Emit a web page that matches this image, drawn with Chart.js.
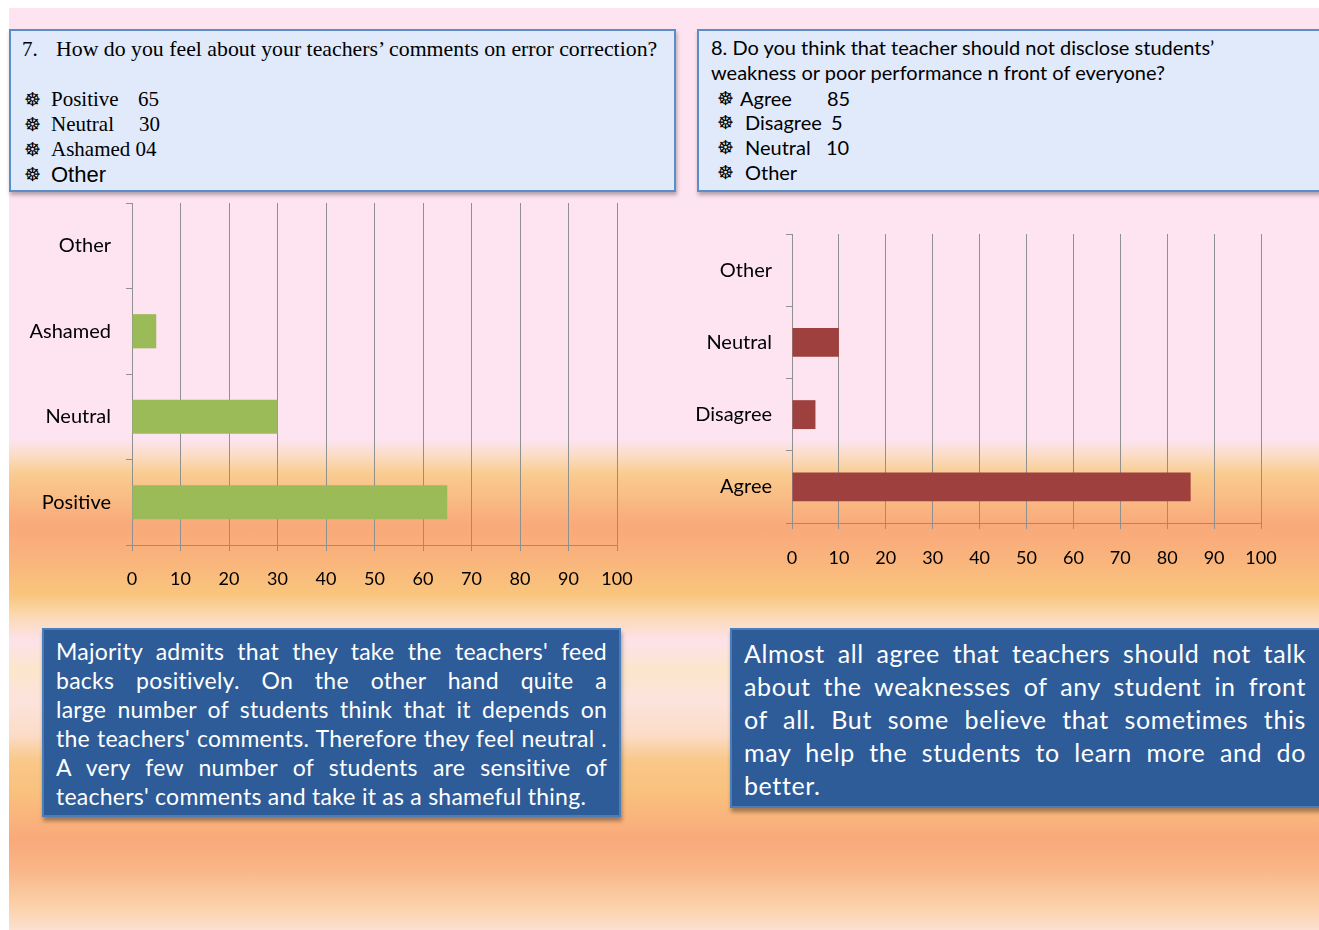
<!DOCTYPE html>
<html>
<head>
<meta charset="utf-8">
<script src="https://cdn.jsdelivr.net/npm/chart.js@4"></script>
<style>
  html, body { margin: 0; padding: 0; overflow: hidden; background: #fff; }
  #page { position: relative; width: 1319px; height: 930px; overflow: hidden; }
  #slide {
    position: absolute; left: 9px; top: 8px; width: 1310px; height: 922px;
    background: linear-gradient(to bottom,
      #fde4f0 0px, #fde4f0 432px, #fbdcc6 447px, #f9cb8e 467px, #f9a97a 517px,
      #f9b47c 552px, #f9c67c 587px, #fbd9b0 607px, #fde2ea 632px, #fbe6cc 662px,
      #fce3dc 692px, #fbdcc8 727px, #f9c88a 752px, #f9c27e 782px, #f9a97a 832px,
      #f9b688 862px, #fbd0a8 897px, #fde0d0 922px);
  }
  .qbox {
    position: absolute; box-sizing: border-box; height: 163px; top: 29px;
    background: #e0eafb; border: 2px solid #5d8cc6;
    box-shadow: 1px 3px 4px rgba(0,0,0,0.3);
  }
  .qbox div { position: absolute; white-space: pre; line-height: 25px; height: 25px; color: #000; }
  .serif { font-family: "Liberation Serif", serif; font-size: 21px; }
  .sans { font-family: "Liberation Sans", sans-serif; font-size: 22px; }
  .lato { font-family: Lato, sans-serif; font-size: 20px; }
  .bul { font-family: "DejaVu Sans", sans-serif; font-size: 19px; }
  .note {
    position: absolute; box-sizing: border-box; top: 628px;
    background: #2e5c98; border: 2px solid #4a7ebb;
    box-shadow: 1px 4px 4px rgba(0,0,0,0.35);
    color: #fff; font-family: Lato, sans-serif;
  }
  .note .txt { position: absolute; }
  .note .ln { text-align: justify; text-align-last: justify; }
  .note .ln.last { text-align: left; text-align-last: left; }
  canvas { position: absolute; }
</style>
</head>
<body>
<div id="page">
  <div id="slide"></div>

  <div class="qbox" style="left:9px; width:667px;">
    <div class="serif" style="left:11px; top:6px;">7.</div>
    <div class="serif" style="left:45px; top:6px; font-size:21.8px;">How do you feel about your teachers’ comments on error correction?</div>
    <div class="bul" style="left:13px; top:56px;">☸</div>
    <div class="serif" style="left:40px; top:56px;">Positive</div>
    <div class="serif" style="left:127px; top:56px;">65</div>
    <div class="bul" style="left:13px; top:81px;">☸</div>
    <div class="serif" style="left:40px; top:81px;">Neutral</div>
    <div class="serif" style="left:128px; top:81px;">30</div>
    <div class="bul" style="left:13px; top:106px;">☸</div>
    <div class="serif" style="left:40px; top:106px;">Ashamed 04</div>
    <div class="bul" style="left:13px; top:131px;">☸</div>
    <div class="sans" style="left:40px; top:131px;">Other</div>
  </div>

  <div class="qbox" style="left:697px; width:640px;">
    <div class="lato" style="left:12px; top:4px;">8. Do you think that teacher should not disclose students’</div>
    <div class="lato" style="left:12px; top:29px;">weakness or poor performance n front of everyone?</div>
    <div class="bul" style="left:18px; top:55px;">☸</div>
    <div class="lato" style="left:41px; top:55px;">Agree</div>
    <div class="lato" style="left:128px; top:55px;">85</div>
    <div class="bul" style="left:18px; top:79px;">☸</div>
    <div class="lato" style="left:46px; top:79px;">Disagree</div>
    <div class="lato" style="left:132px; top:79px;">5</div>
    <div class="bul" style="left:18px; top:104px;">☸</div>
    <div class="lato" style="left:46px; top:104px;">Neutral</div>
    <div class="lato" style="left:127px; top:104px;">10</div>
    <div class="bul" style="left:18px; top:129px;">☸</div>
    <div class="lato" style="left:46px; top:129px;">Other</div>
  </div>

  <canvas id="chart7" width="640" height="400" style="left:10px; top:195px;"></canvas>
  <canvas id="chart8" width="620" height="360" style="left:680px; top:225px;"></canvas>

  <div class="note" style="left:42px; width:579px; height:189px;">
    <div class="txt" style="left:12px; top:7px; width:551px; font-size:23px; line-height:29px; letter-spacing:0.25px;">
      <div class="ln">Majority admits that they take the teachers' feed</div>
      <div class="ln">backs positively. On the other hand quite a</div>
      <div class="ln">large number of students think that it depends on</div>
      <div class="ln">the teachers' comments. Therefore they feel neutral .</div>
      <div class="ln">A very few number of students are sensitive of</div>
      <div class="ln last">teachers' comments and take it as a shameful thing.</div>
    </div>
  </div>

  <div class="note" style="left:730px; width:620px; height:180px;">
    <div class="txt" style="left:12px; top:7px; width:562px; font-size:25px; line-height:33px; letter-spacing:0.6px;">
      <div class="ln">Almost all agree that teachers should not talk</div>
      <div class="ln">about the weaknesses of any student in front</div>
      <div class="ln">of all. But some believe that sometimes this</div>
      <div class="ln">may help the students to learn more and do</div>
      <div class="ln last">better.</div>
    </div>
  </div>
</div>

<script>
// question 7
const q7Labels = ['Positive', 'Neutral', 'Ashamed', 'Other'];
const q7Values = [65, 30, 5, null];

// question 8
const q8Labels = ['Agree', 'Disagree', 'Neutral', 'Other'];
const q8Values = [85, 5, 10, null];

const axisMin = 0;
const axisMax = 100;
const axisStep = 10;

const gridColor = '#909090';
Chart.defaults.font.family = 'Lato, sans-serif';
Chart.defaults.color = '#000';

function makeChart(id, labels, values, color, geo) {
  return new Chart(document.getElementById(id), {
    type: 'bar',
    data: {
      labels: labels,
      datasets: [{ data: values, backgroundColor: color, borderWidth: 0, barPercentage: 0.4, categoryPercentage: 1 }]
    },
    options: {
      responsive: false,
      animation: false,
      indexAxis: 'y',
      layout: { padding: geo.padding },
      plugins: { legend: { display: false }, tooltip: { enabled: false } },
      scales: {
        x: {
          min: axisMin, max: axisMax,
          ticks: { stepSize: axisStep, font: { size: 18 }, padding: geo.xPad, color: '#000' },
          grid: { color: gridColor, tickLength: 6 },
          border: { color: gridColor },
          afterFit: s => { s.height = geo.xHeight; }
        },
        y: {
          reverse: true,
          ticks: { font: { size: 20 }, padding: geo.yPad, color: '#000' },
          grid: { drawOnChartArea: false, color: gridColor, tickLength: 6 },
          border: { color: gridColor },
          // keep the plot edges where the slide has them
          afterFit: s => { s.width = geo.yWidth; s.paddingTop = 0; s.paddingBottom = 0; }
        }
      }
    }
  });
}

makeChart('chart7', q7Labels, q7Values, '#9bbb59',
  { padding: { top: 8, right: 33, left: 0, bottom: 0 }, xHeight: 50, yWidth: 122, xPad: 17, yPad: 15 });
makeChart('chart8', q8Labels, q8Values, '#9e403d',
  { padding: { top: 9, right: 39, left: 0, bottom: 0 }, xHeight: 62, yWidth: 112, xPad: 18, yPad: 14 });
</script>
</body>
</html>
